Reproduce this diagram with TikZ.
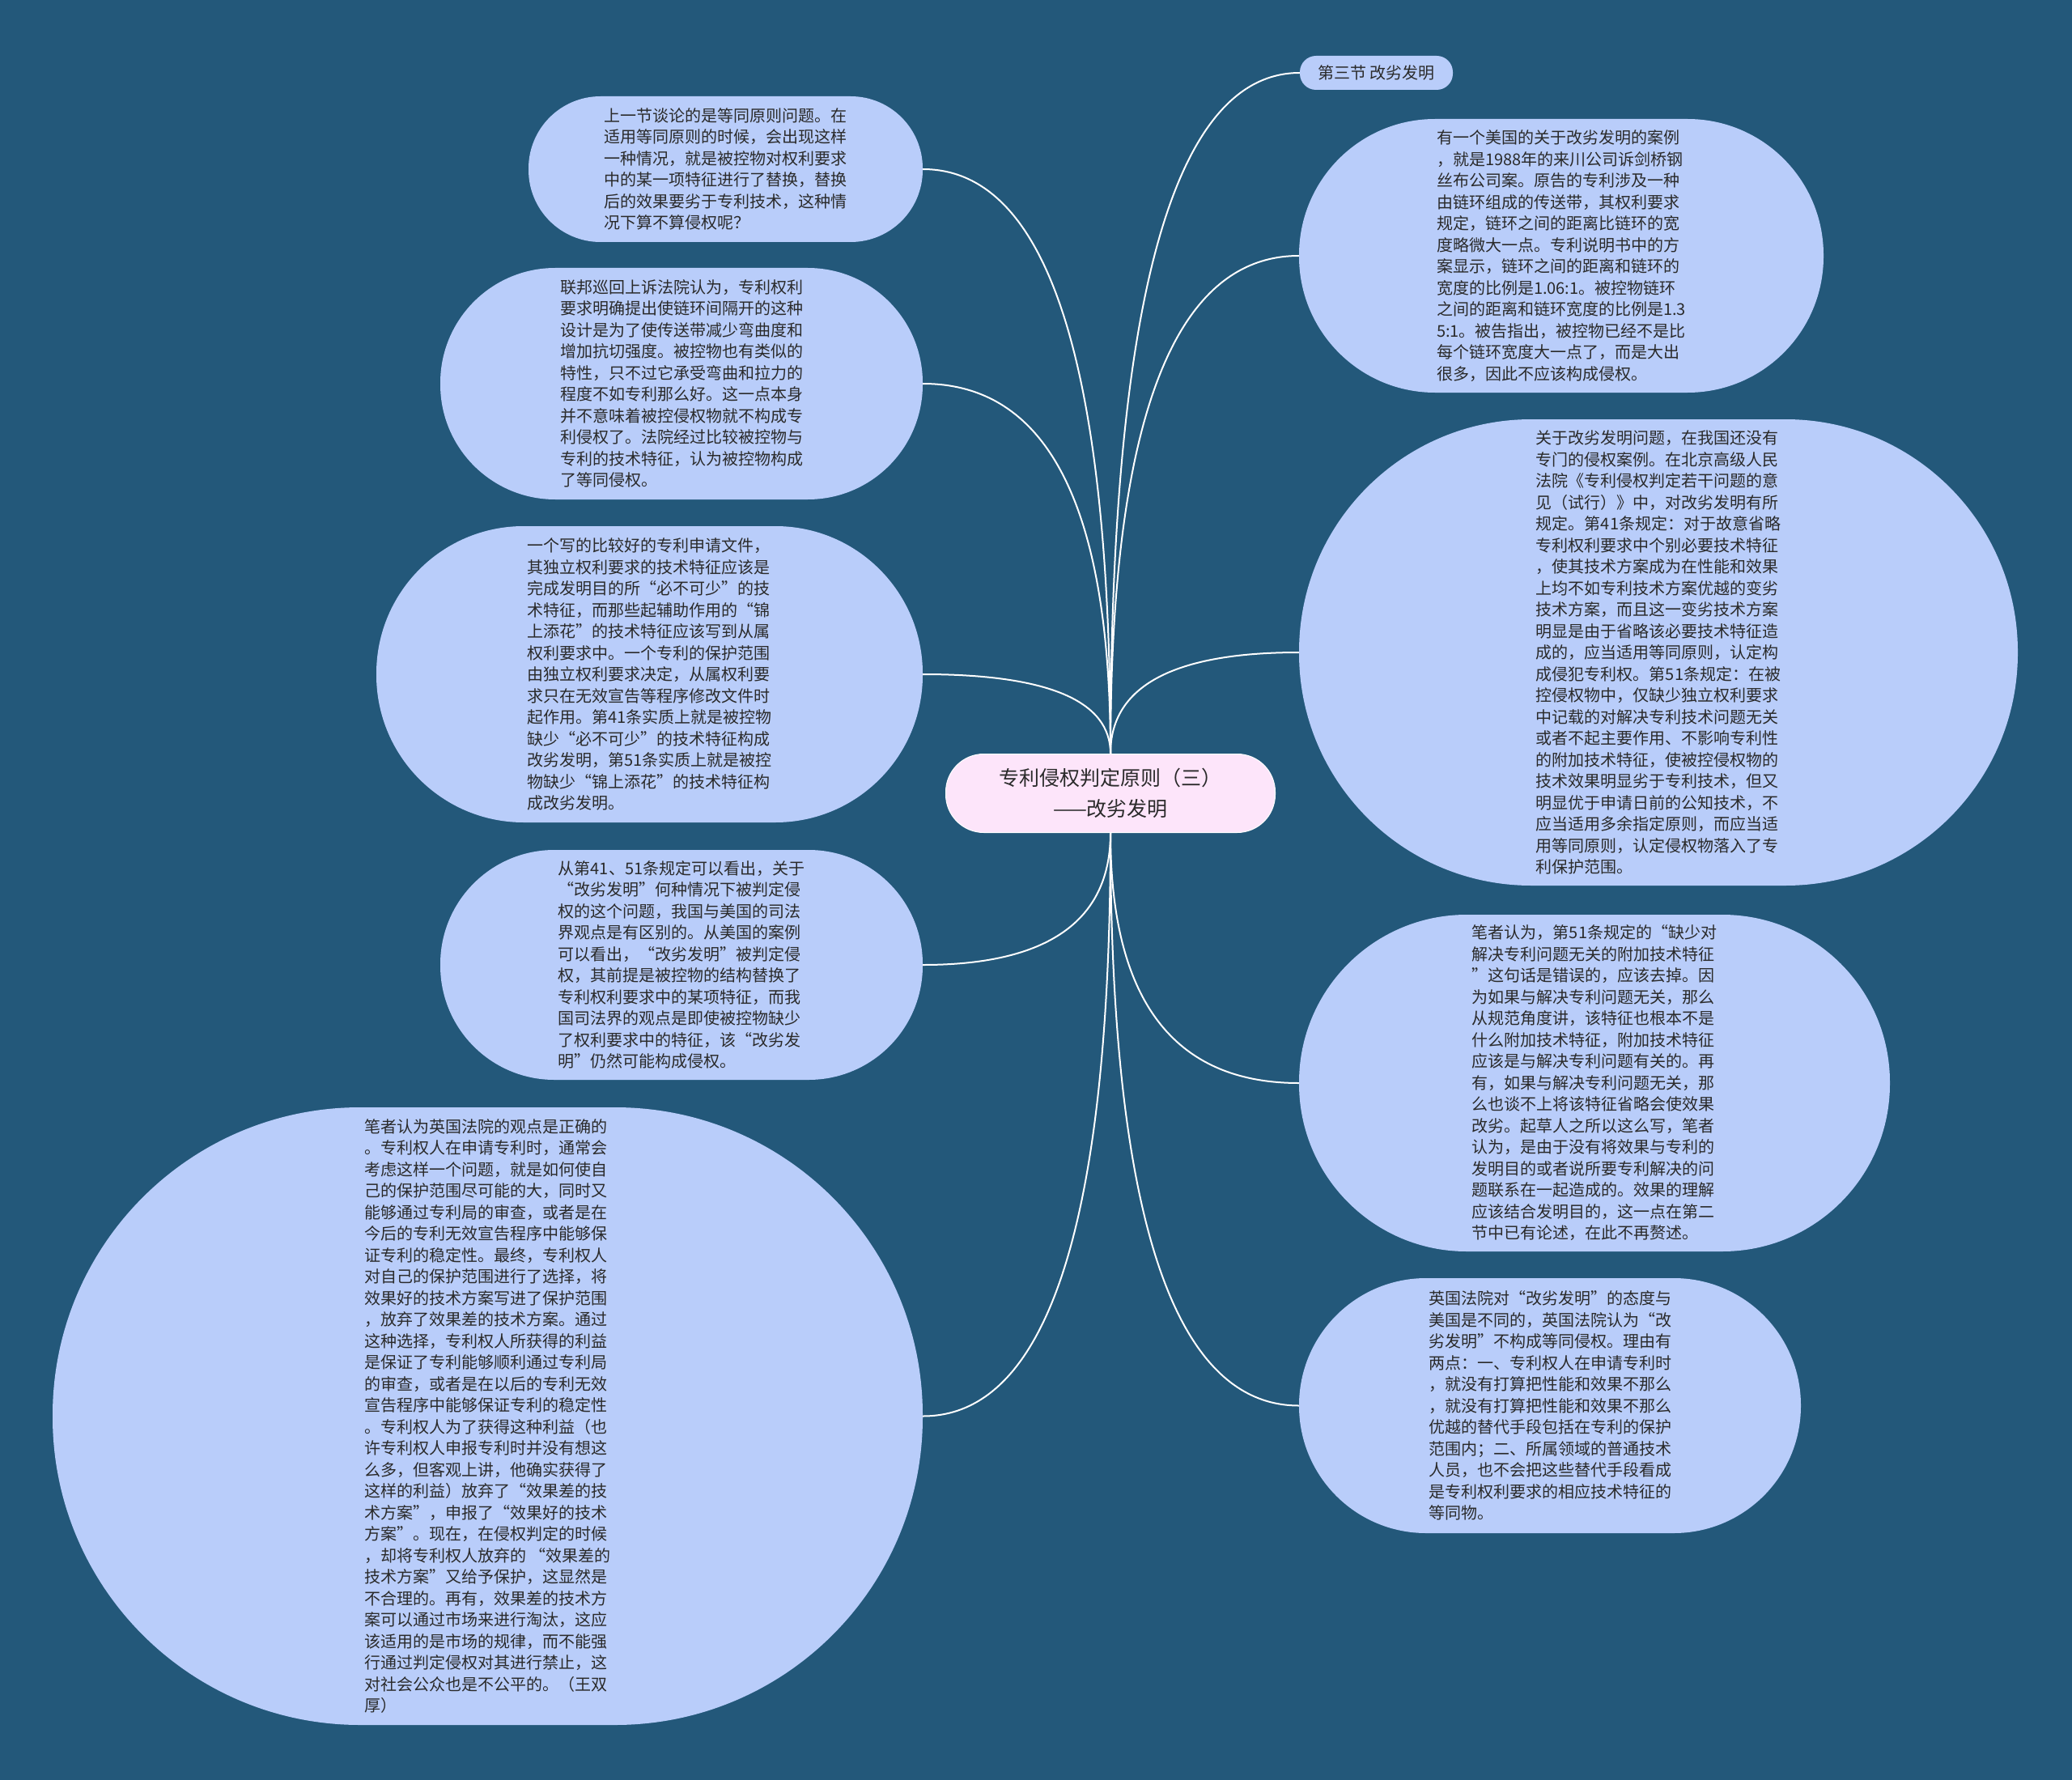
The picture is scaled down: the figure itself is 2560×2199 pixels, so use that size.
\documentclass[tikz,border=0pt]{standalone}
\usepackage{fontspec}
\setmainfont{Noto Sans CJK SC}
\usetikzlibrary{calc}
\definecolor{bg}{HTML}{23587A}
\definecolor{bub}{HTML}{B9CDFA}
\definecolor{cen}{HTML}{FDE5FA}
\definecolor{txt}{HTML}{2A2A2A}
\tikzset{
 bubble/.style={rectangle, fill=bub, draw=none, inner sep=0pt, align=left, text=txt, font=\fontsize{20}{26.5}\selectfont},
 centre/.style={rectangle, fill=cen, draw=white, line width=1pt, inner sep=0pt, align=center, text=txt, font=\fontsize{25}{38}\selectfont},
 link/.style={draw=white, line width=2pt},
}
\newcommand\mmlink[2]{\draw[link] (#1) .. controls ($(#1)!0.6667!(#1|-#2)$) and ($(#2)!0.6667!(#1|-#2)$) .. (#2);}
\begin{document}
\begin{tikzpicture}[x=1pt,y=-1pt]
\fill[bg] (0,0) rectangle (2560,2199);
\useasboundingbox (0,0) rectangle (2560,2199);

\node[centre, minimum width=407pt, minimum height=97pt, rounded corners=47pt] (c) at (1372,980)
 {专利侵权判定原则（三）\\——改劣发明};

\node[bubble, minimum width=189pt, minimum height=42pt, rounded corners=20pt] (r0) at (1700.5,90) {第三节 改劣发明};

\node[bubble, minimum width=648pt, minimum height=338pt, rounded corners=168pt] (r1) at (1929,316) {有一个美国的关于改劣发明的案例\\
，就是1988年的来川公司诉剑桥钢\\
丝布公司案。原告的专利涉及一种\\
由链环组成的传送带，其权利要求\\
规定，链环之间的距离比链环的宽\\
度略微大一点。专利说明书中的方\\
案显示，链环之间的距离和链环的\\
宽度的比例是1.06:1。被控物链环\\
之间的距离和链环宽度的比例是1.3\\
5:1。被告指出，被控物已经不是比\\
每个链环宽度大一点了，而是大出\\
很多，因此不应该构成侵权。};

\node[bubble, minimum width=888pt, minimum height=576pt, rounded corners=287pt] (r2) at (2049,806) {关于改劣发明问题，在我国还没有\\
专门的侵权案例。在北京高级人民\\
法院《专利侵权判定若干问题的意\\
见（试行）》中，对改劣发明有所\\
规定。第41条规定：对于故意省略\\
专利权利要求中个别必要技术特征\\
，使其技术方案成为在性能和效果\\
上均不如专利技术方案优越的变劣\\
技术方案，而且这一变劣技术方案\\
明显是由于省略该必要技术特征造\\
成的，应当适用等同原则，认定构\\
成侵犯专利权。第51条规定：在被\\
控侵权物中，仅缺少独立权利要求\\
中记载的对解决专利技术问题无关\\
或者不起主要作用、不影响专利性\\
的附加技术特征，使被控侵权物的\\
技术效果明显劣于专利技术，但又\\
明显优于申请日前的公知技术，不\\
应当适用多余指定原则，而应当适\\
用等同原则，认定侵权物落入了专\\
利保护范围。};

\node[bubble, minimum width=730pt, minimum height=416pt, rounded corners=207pt] (r3) at (1970,1338) {笔者认为，第51条规定的“缺少对\\
解决专利问题无关的附加技术特征\\
”这句话是错误的，应该去掉。因\\
为如果与解决专利问题无关，那么\\
从规范角度讲，该特征也根本不是\\
什么附加技术特征，附加技术特征\\
应该是与解决专利问题有关的。再\\
有，如果与解决专利问题无关，那\\
么也谈不上将该特征省略会使效果\\
改劣。起草人之所以这么写，笔者\\
认为，是由于没有将效果与专利的\\
发明目的或者说所要专利解决的问\\
题联系在一起造成的。效果的理解\\
应该结合发明目的，这一点在第二\\
节中已有论述，在此不再赘述。};

\node[bubble, minimum width=620pt, minimum height=315pt, rounded corners=157pt] (r4) at (1915,1736.5) {英国法院对“改劣发明”的态度与\\
美国是不同的，英国法院认为“改\\
劣发明”不构成等同侵权。理由有\\
两点：一、专利权人在申请专利时\\
，就没有打算把性能和效果不那么\\
，就没有打算把性能和效果不那么\\
优越的替代手段包括在专利的保护\\
范围内；二、所属领域的普通技术\\
人员，也不会把这些替代手段看成\\
是专利权利要求的相应技术特征的\\
等同物。};

\node[bubble, minimum width=487pt, minimum height=180pt, rounded corners=89pt] (l1) at (896.5,209) {上一节谈论的是等同原则问题。在\\
适用等同原则的时候，会出现这样\\
一种情况，就是被控物对权利要求\\
中的某一项特征进行了替换，替换\\
后的效果要劣于专利技术，这种情\\
况下算不算侵权呢？};

\node[bubble, minimum width=596pt, minimum height=286pt, rounded corners=142pt] (l2) at (842,474) {联邦巡回上诉法院认为，专利权利\\
要求明确提出使链环间隔开的这种\\
设计是为了使传送带减少弯曲度和\\
增加抗切强度。被控物也有类似的\\
特性，只不过它承受弯曲和拉力的\\
程度不如专利那么好。这一点本身\\
并不意味着被控侵权物就不构成专\\
利侵权了。法院经过比较被控物与\\
专利的技术特征，认为被控物构成\\
了等同侵权。};

\node[bubble, minimum width=675pt, minimum height=366pt, rounded corners=182pt] (l3) at (802.5,833) {一个写的比较好的专利申请文件，\\
其独立权利要求的技术特征应该是\\
完成发明目的所“必不可少”的技\\
术特征，而那些起辅助作用的“锦\\
上添花”的技术特征应该写到从属\\
权利要求中。一个专利的保护范围\\
由独立权利要求决定，从属权利要\\
求只在无效宣告等程序修改文件时\\
起作用。第41条实质上就是被控物\\
缺少“必不可少”的技术特征构成\\
改劣发明，第51条实质上就是被控\\
物缺少“锦上添花”的技术特征构\\
成改劣发明。};

\node[bubble, minimum width=596pt, minimum height=284pt, rounded corners=141pt] (l4) at (842,1192) {从第41、51条规定可以看出，关于\\
“改劣发明”何种情况下被判定侵\\
权的这个问题，我国与美国的司法\\
界观点是有区别的。从美国的案例\\
可以看出，“改劣发明”被判定侵\\
权，其前提是被控物的结构替换了\\
专利权利要求中的某项特征，而我\\
国司法界的观点是即使被控物缺少\\
了权利要求中的特征，该“改劣发\\
明”仍然可能构成侵权。};

\node[bubble, minimum width=1075pt, minimum height=763pt, rounded corners=380pt] (l5) at (602.5,1749.5) {笔者认为英国法院的观点是正确的\\
。专利权人在申请专利时，通常会\\
考虑这样一个问题，就是如何使自\\
己的保护范围尽可能的大，同时又\\
能够通过专利局的审查，或者是在\\
今后的专利无效宣告程序中能够保\\
证专利的稳定性。最终，专利权人\\
对自己的保护范围进行了选择，将\\
效果好的技术方案写进了保护范围\\
，放弃了效果差的技术方案。通过\\
这种选择，专利权人所获得的利益\\
是保证了专利能够顺利通过专利局\\
的审查，或者是在以后的专利无效\\
宣告程序中能够保证专利的稳定性\\
。专利权人为了获得这种利益（也\\
许专利权人申报专利时并没有想这\\
么多，但客观上讲，他确实获得了\\
这样的利益）放弃了“效果差的技\\
术方案”，申报了“效果好的技术\\
方案”。现在，在侵权判定的时候\\
，却将专利权人放弃的 “效果差的\\
技术方案”又给予保护，这显然是\\
不合理的。再有，效果差的技术方\\
案可以通过市场来进行淘汰，这应\\
该适用的是市场的规律，而不能强\\
行通过判定侵权对其进行禁止，这\\
对社会公众也是不公平的。（王双\\
厚）};

\mmlink{c.north}{r0.west}
\mmlink{c.north}{r1.west}
\mmlink{c.north}{r2.west}
\mmlink{c.south}{r3.west}
\mmlink{c.south}{r4.west}
\mmlink{c.north}{l1.east}
\mmlink{c.north}{l2.east}
\mmlink{c.north}{l3.east}
\mmlink{c.south}{l4.east}
\mmlink{c.south}{l5.east}
\end{tikzpicture}
\end{document}
